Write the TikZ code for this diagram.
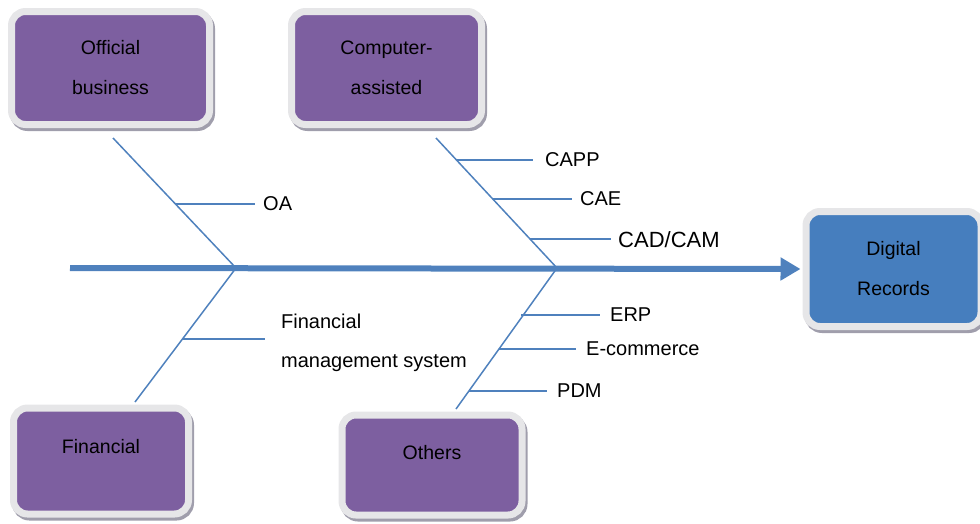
\documentclass[tikz,border=0pt]{standalone}
\usepackage{fontspec}
\setmainfont{Liberation Sans}
\usetikzlibrary{arrows.meta,calc}
\definecolor{boxpurple}{RGB}{125,95,160}
\definecolor{boxblue}{RGB}{70,126,190}
\definecolor{linblue}{RGB}{79,129,189}
\definecolor{rimgray}{RGB}{230,230,232}
\definecolor{shadgray}{RGB}{160,158,172}
\begin{document}
\begin{tikzpicture}[x=1pt,y=-1pt,
  catbox/.style={draw=rimgray, line width=7pt, rounded corners=14pt, fill=boxpurple,
    preaction={draw=shadgray, line width=7pt, transform canvas={xshift=2pt,yshift=-3pt}},
    align=center, font=\fontsize{19.5}{40}\selectfont, inner sep=0pt},
  bone/.style={draw=linblue, line width=1.5pt},
  lbl/.style={font=\fontsize{20}{39}\selectfont, inner sep=0pt, anchor=west, align=left}]
\useasboundingbox (0,0) rectangle (980,523);
% category boxes
\node[catbox, minimum width=198pt, minimum height=113pt] (off) at (110.5,68) {Official\\business};
\node[catbox, minimum width=190pt, minimum height=113pt] (comp) at (386.5,68) {Computer-\\assisted};
\node[catbox, fill=boxblue, minimum width=175pt, minimum height=115pt] (dig) at (893.5,269) {Digital\\Records};
\node[catbox, minimum width=175pt, minimum height=106pt] (fin) at (101,461) {Financial\\[-10pt]\mbox{}};
\node[catbox, minimum width=180pt, minimum height=100pt] (oth) at (432,465) {Others\\[-14pt]\mbox{}};
% spine
\coordinate (tail) at (70,268);
\draw[draw=linblue, line width=6pt, -{Triangle[length=20pt,width=22pt]}, shorten >=2pt] (tail) -- (dig.west);
% bones
\coordinate (b1top) at (113,138);
\coordinate (j1) at (236,268);
\coordinate (b1bot) at (135,402);
\coordinate (b2top) at (436,138);
\coordinate (j2) at (557,268);
\coordinate (b2bot) at (456,409);
\draw[bone] (b1top) -- (j1) -- (b1bot);
\draw[bone] (b2top) -- (j2) -- (b2bot);
% labels
\node[lbl] (oa) at (263,204) {OA};
\node[lbl] (fms) at (281,342.5) {Financial\\management system};
\node[lbl] (capp) at (545,160) {CAPP};
\node[lbl] (cae) at (580,199) {CAE};
\node[lbl, font=\fontsize{22}{26}\selectfont] (cad) at (618,240) {CAD/CAM};
\node[lbl] (erp) at (610,315) {ERP};
\node[lbl] (ecom) at (586,349) {E-commerce};
\node[lbl] (pdm) at (557,391) {PDM};
% branch points on bones
\coordinate (poa) at ($(b1top)!{66/130}!(j1)$);
\coordinate (pfin) at ($(j1)!{71/134}!(b1bot)$);
\coordinate (pcapp) at ($(b2top)!{22/130}!(j2)$);
\coordinate (pcae) at ($(b2top)!{61/130}!(j2)$);
\coordinate (pcad) at ($(b2top)!{101/130}!(j2)$);
\coordinate (perp) at ($(j2)!{47/141}!(b2bot)$);
\coordinate (pecom) at ($(j2)!{81/141}!(b2bot)$);
\coordinate (ppdm) at ($(j2)!{123/141}!(b2bot)$);
% branches
\draw[bone, shorten >=8pt] (poa) -- (poa -| oa.west);
\draw[bone, shorten >=16pt] (pfin) -- (pfin -| fms.west);
\draw[bone, shorten >=12pt] (pcapp) -- (pcapp -| capp.west);
\draw[bone, shorten >=8pt] (pcae) -- (pcae -| cae.west);
\draw[bone, shorten >=7pt] (pcad) -- (pcad -| cad.west);
\draw[bone, shorten >=10pt] ([xshift=-2pt]perp) -- (perp -| erp.west);
\draw[bone, shorten >=10pt] (pecom) -- (pecom -| ecom.west);
\draw[bone, shorten >=10pt] (ppdm) -- (ppdm -| pdm.west);
\end{tikzpicture}
\end{document}
